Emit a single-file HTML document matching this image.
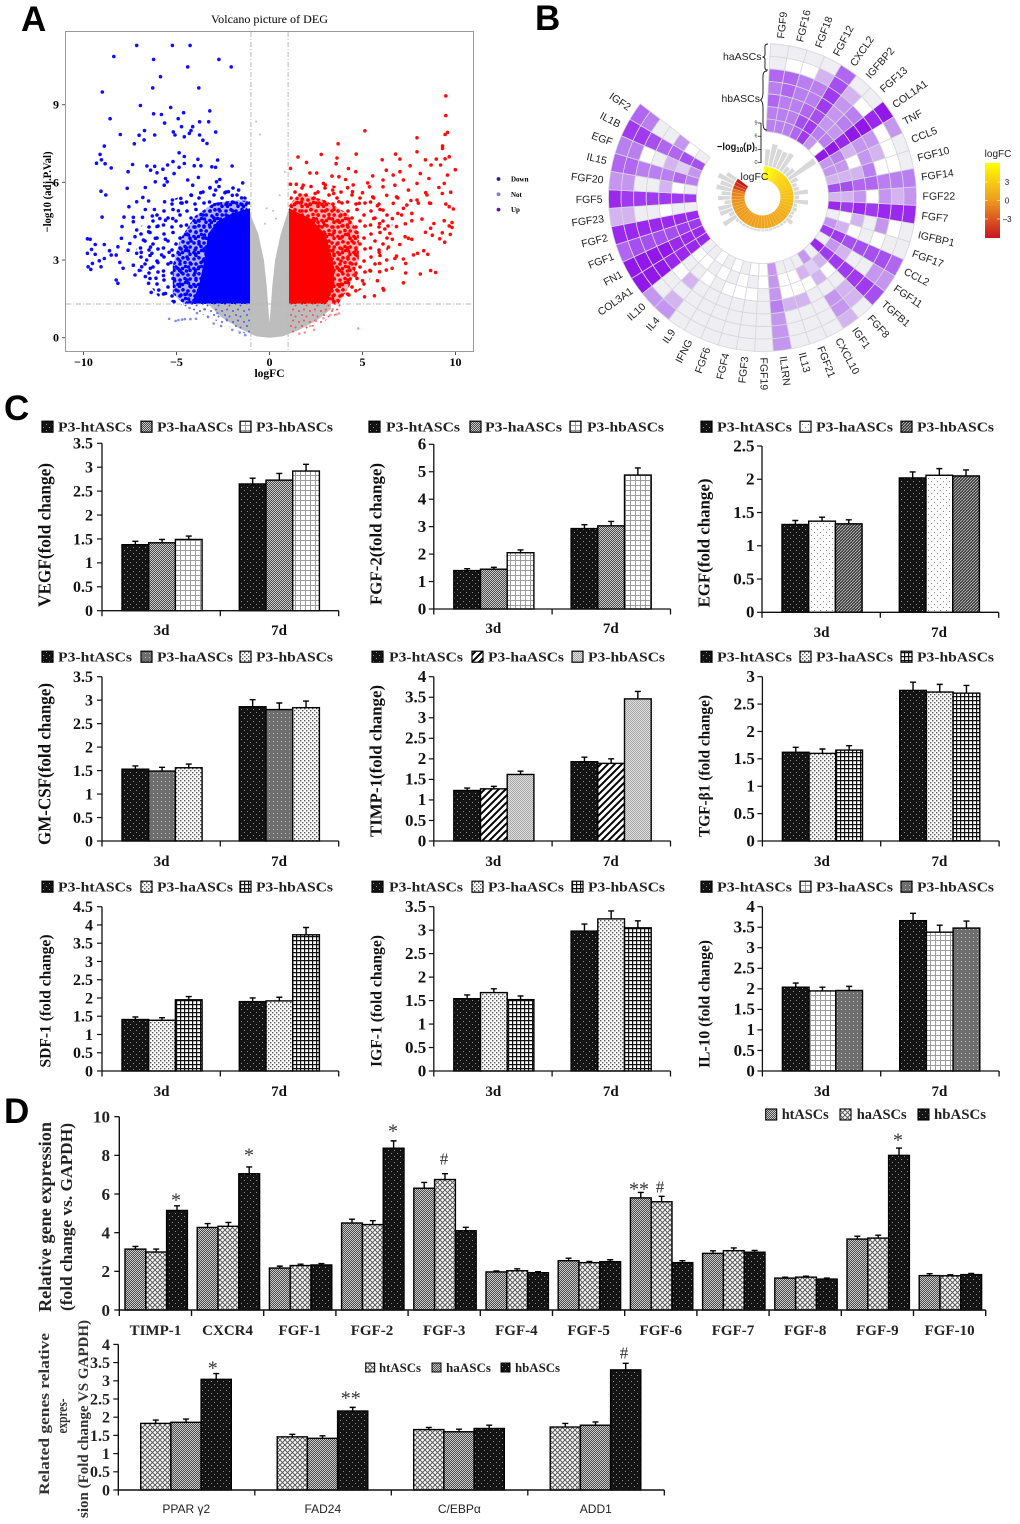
<!DOCTYPE html>
<html lang="en">
<head>
<meta charset="utf-8">
<title>Multi-panel figure: volcano plot, circular heatmap, growth factor bar charts</title>
<style>
html,body{margin:0;padding:0;background:#fff;}
svg{display:block;}
.serif{font-family:"Liberation Serif",serif;}
.sans{font-family:"Liberation Sans",sans-serif;}
</style>
</head>
<body>
<svg id="fig" xmlns="http://www.w3.org/2000/svg" width="1020" height="1524" viewBox="0 0 1020 1524">
<defs>
<pattern id="darkDots" width="6" height="6" patternUnits="userSpaceOnUse"><rect width="6" height="6" fill="#141414"/><rect x="1" y="1" width="1" height="1" fill="#8c8c8c"/><rect x="4" y="4" width="1" height="1" fill="#8c8c8c"/></pattern>
<pattern id="grayCheck" width="2" height="2" patternUnits="userSpaceOnUse"><rect width="2" height="2" fill="#4c4c4c"/><rect width="1" height="1" fill="#cacaca"/><rect x="1" y="1" width="1" height="1" fill="#cacaca"/></pattern>
<pattern id="whiteGrid" width="5" height="5" patternUnits="userSpaceOnUse"><rect width="5" height="5" fill="#fff"/><path d="M0 .5H5M.5 0V5" stroke="#9c9c9c" stroke-width="1"/></pattern>
<pattern id="whiteDots" width="6" height="6" patternUnits="userSpaceOnUse"><rect width="6" height="6" fill="#fff"/><rect x="1" y="1" width="1" height="1" fill="#888"/><rect x="4" y="4" width="1" height="1" fill="#888"/></pattern>
<pattern id="whiteDotsDense" width="4" height="4" patternUnits="userSpaceOnUse"><rect width="4" height="4" fill="#fff"/><rect x="0" y="0" width="1.4" height="1.4" fill="#555"/><rect x="2" y="2" width="1.4" height="1.4" fill="#555"/></pattern>
<pattern id="diagDark" width="3" height="3" patternUnits="userSpaceOnUse"><rect width="3" height="3" fill="#3a3a3a"/><path d="M0 3L3 0" stroke="#c4c4c4" stroke-width=".8"/></pattern>
<pattern id="diagWide" width="7" height="7" patternUnits="userSpaceOnUse"><rect width="7" height="7" fill="#fff"/><path d="M-1 8L8 -1M-1 1L1 -1M6 8L8 6" stroke="#000" stroke-width="2"/></pattern>
<pattern id="lightDense" width="2" height="2" patternUnits="userSpaceOnUse"><rect width="2" height="2" fill="#dedede"/><rect width="1" height="1" fill="#a8a8a8"/><rect x="1" y="1" width="1" height="1" fill="#a8a8a8"/></pattern>
<pattern id="darkGrid" width="4" height="4" patternUnits="userSpaceOnUse"><rect width="4" height="4" fill="#fff"/><path d="M0 .6H4M.6 0V4" stroke="#111" stroke-width="1.2"/></pattern>
<pattern id="grayDots" width="4" height="4" patternUnits="userSpaceOnUse"><rect width="4" height="4" fill="#6e6e6e"/><rect x="1" y="1" width="1" height="1" fill="#b8b8b8"/></pattern>
<pattern id="cross" width="5" height="5" patternUnits="userSpaceOnUse"><rect width="5" height="5" fill="#fff"/><path d="M0 0L5 5M5 0L0 5" stroke="#5a5a5a" stroke-width="1"/></pattern>
<pattern id="blueDense" width="16" height="16" patternUnits="userSpaceOnUse"><g fill="#0000ff"><circle cx="2" cy="3" r="1.8"/><circle cx="7" cy="1.8" r="1.8"/><circle cx="12" cy="3" r="1.8"/><circle cx="14.2" cy="7" r="1.8"/><circle cx="4" cy="8" r="1.8"/><circle cx="9" cy="6.5" r="1.8"/><circle cx="12.5" cy="11" r="1.8"/><circle cx="1.9" cy="12.5" r="1.8"/><circle cx="6.5" cy="12.5" r="1.8"/><circle cx="9.5" cy="10.5" r="1.8"/><circle cx="14" cy="14.2" r="1.8"/><circle cx="3.5" cy="14.2" r="1.8"/></g></pattern>
<pattern id="redDense" width="16" height="16" patternUnits="userSpaceOnUse"><g fill="#ff0000"><circle cx="2" cy="3" r="1.8"/><circle cx="7" cy="1.8" r="1.8"/><circle cx="12" cy="3" r="1.8"/><circle cx="14.2" cy="7" r="1.8"/><circle cx="4" cy="8" r="1.8"/><circle cx="9" cy="6.5" r="1.8"/><circle cx="12.5" cy="11" r="1.8"/><circle cx="1.9" cy="12.5" r="1.8"/><circle cx="6.5" cy="12.5" r="1.8"/><circle cx="9.5" cy="10.5" r="1.8"/><circle cx="14" cy="14.2" r="1.8"/><circle cx="3.5" cy="14.2" r="1.8"/></g></pattern>
<pattern id="blueSparse" width="23" height="23" patternUnits="userSpaceOnUse"><g fill="#0000ff"><circle cx="3" cy="4" r="1.8"/><circle cx="12" cy="2.5" r="1.8"/><circle cx="19" cy="8" r="1.8"/><circle cx="7" cy="11" r="1.8"/><circle cx="15" cy="14" r="1.8"/><circle cx="2.5" cy="18" r="1.8"/><circle cx="11" cy="20" r="1.8"/><circle cx="20" cy="19" r="1.8"/></g></pattern>
<pattern id="redSparse" width="23" height="23" patternUnits="userSpaceOnUse"><g fill="#ff0000"><circle cx="3" cy="4" r="1.8"/><circle cx="12" cy="2.5" r="1.8"/><circle cx="19" cy="8" r="1.8"/><circle cx="7" cy="11" r="1.8"/><circle cx="15" cy="14" r="1.8"/><circle cx="2.5" cy="18" r="1.8"/><circle cx="11" cy="20" r="1.8"/><circle cx="20" cy="19" r="1.8"/></g></pattern>
<pattern id="blueFringe" width="11" height="11" patternUnits="userSpaceOnUse"><g fill="#4a5fe8"><circle cx="2" cy="3" r="1"/><circle cx="7" cy="1.5" r="1"/><circle cx="5" cy="7" r="1"/><circle cx="9.5" cy="8.5" r="1"/></g></pattern>
<pattern id="redFringe" width="11" height="11" patternUnits="userSpaceOnUse"><g fill="#f05050"><circle cx="2" cy="3" r="1"/><circle cx="7" cy="1.5" r="1"/><circle cx="5" cy="7" r="1"/><circle cx="9.5" cy="8.5" r="1"/></g></pattern>
<linearGradient id="logfcGradient" x1="0" y1="0" x2="0" y2="1"><stop offset="0" stop-color="#ffff00"/><stop offset=".5" stop-color="#ee9a1f"/><stop offset="1" stop-color="#c8141f"/></linearGradient>
</defs>

<g class="sans" font-weight="700" font-size="35" fill="#000">
<text x="21" y="31">A</text>
<text x="535" y="30">B</text>
<text x="4" y="420">C</text>
<text x="4" y="1123">D</text>
</g>

<g id="volcano"></g>
<g id="circos"></g>
<g id="panelsC"></g>
<g id="panelsD"></g>
</svg>

<script>
/* ---------- Panel A data (logFC, -log10 adj.P) ---------- */
const volcanoXTicks = [-10, -5, 0, 5, 10];
const volcanoYTicks = [0, 3, 6, 9];
const volcanoLegend = ['Down', 'Not', 'Up'];
const notRegion = [[-1.05,4.8],[-1.05,1.3],[-3.3,1.3],[-2.6,.8],[-1.6,.35],[-.7,.05],[0,0],[.7,.05],[1.6,.3],[2.6,.7],[3.3,1.1],[3.3,1.3],[1.05,1.3],[1.05,5],[.6,4],[.3,3],[.15,2],[.05,1],[0,.6],[-.05,1],[-.15,2],[-.3,3],[-.6,4]];
const downFringe = [[-4.8,1.3],[-3,.7],[-1.5,.2],[-1.05,.1],[-1.05,1.3]];
const upFringe = [[1.05,.1],[2.6,.5],[3.9,1],[4,1.3],[1.05,1.3]];
const downOuter = [[-5,1.3],[-6,1.6],[-6.8,2.4],[-7.2,3.2],[-7,4.2],[-6.3,4.9],[-5,5.4],[-3.5,5.9],[-2,5.9],[-1.05,5.3],[-1.05,1.3]];
const downSpread = [[-4.6,1.3],[-5.2,1.7],[-5.2,2.8],[-4.8,3.8],[-4,4.7],[-3,5.2],[-2,5.3],[-1.2,5.3],[-1.05,1.3]];
const downCore = [[-1.05,1.3],[-4.2,1.3],[-3.8,2],[-3.5,3],[-3.3,4],[-2.8,4.5],[-2,4.8],[-1.05,5]];
const upOuter = [[1.05,1.3],[3.8,1.3],[5,1.9],[6,2.8],[6.6,3.8],[6.6,4.8],[5.8,5.3],[4,5.8],[2.5,6],[1.3,5.9],[1.05,5.3]];
const upSpread = [[1.05,1.3],[3.7,1.3],[4.3,2],[4.8,3],[4.8,4],[4.2,4.8],[3,5.3],[1.6,5.6],[1.05,5.1]];
const upCore = [[1.05,1.3],[3,1.3],[3.5,2],[3.4,3],[3,4],[2.2,4.6],[1.05,5]];
const downPoints = [[-7.14,11.29],[-5.22,11.29],[-4.27,11.29],[-8.37,10.86],[-6.23,10.75],[-2.72,10.75],[-2.06,10.46],[-4.4,10.46],[-5.86,10.08],[-6.28,9.65],[-3.8,9.65],[-8.99,9.49],[-6.94,8.97],[-5.31,8.89],[-3.21,8.76],[-4.62,8.69],[-6.23,8.65],[-5.81,8.62],[-8.57,8.46],[-4.91,8.46],[-5.64,8.29],[-3.76,8.34],[-3.27,8.34],[-4.73,8.15],[-4.13,8.15],[-6.72,8],[-4.22,8],[-2.89,7.94],[-5.17,7.95],[-8.02,7.85],[-7.01,7.82],[-6.17,7.83],[-5.08,7.83],[-4.31,7.89],[-3.76,7.83],[-4.58,7.76],[-6.74,7.64],[-3.58,7.63],[-3.36,7.5],[-7.27,7.49],[-8.88,7.4],[-4.86,7.14],[-9.11,7.08],[-4.58,7],[-9.04,6.87],[-3.85,6.89],[-2.79,6.86],[-9.3,6.74],[-8.84,6.72],[-7.36,6.69],[-5.19,6.8],[-4.58,6.73],[-5.48,6.67],[-4.05,6.64],[-3.69,6.64],[-3.1,6.6],[-2.9,6.58],[-2.01,6.63],[-6.59,6.63],[-6.17,6.62],[-8.51,6.56],[-6.39,6.47],[-7.6,6.41],[-5.73,6.51],[-4.86,6.58],[-6.05,6.37],[-5.13,6.34],[-5.59,6.15],[-3.82,6.19],[-2.67,6.11],[-6.14,6.02],[-5.5,6.02],[-4.4,6.09],[-2.85,6.02],[-1.44,5.98],[-9.06,5.66],[-8.8,5.51],[-7.65,5.77],[-6.68,5.8],[-5.66,5.89],[-4.13,5.89],[-2.21,5.64],[-1.66,5.7],[-6.81,5.42],[-6.5,5.28],[-7.14,5.25],[-7.56,5.06],[-6.68,4.95],[-5.64,5.25],[-5.22,5.32],[-4.77,5.38],[-6.19,4.95],[-9,4.66],[-7.82,4.66],[-7.32,4.65],[-6.83,4.65],[-7.93,4.29],[-7.32,4.48],[-7.14,4.16],[-6.5,4.09],[-6.05,4.29],[-5.59,4.54],[-7.23,3.9],[-7.96,3.84],[-9.79,3.82],[-9.64,3.8],[-6.78,3.77],[-6.14,3.84],[-9.37,3.6],[-8.88,3.6],[-9.57,3.41],[-8.15,3.51],[-7.51,3.64],[-8.6,3.36],[-9.79,3.26],[-9.37,3.22],[-8.51,3.19],[-8.24,3.19],[-7.14,3.26],[-6.32,3.26],[-7.6,3.38],[-8.88,3.06],[-9.15,2.97],[-8.05,2.91],[-9.52,2.87],[-9.75,2.74],[-9.61,2.64],[-9.06,2.74],[-7.87,2.68],[-7.32,2.8],[-6.87,2.74],[-6.41,2.68],[-8.24,2.23],[-8.15,2.1],[-7.23,2.42],[-6.68,2.36],[-6.5,2.1],[-5.95,1.84],[-6.36,1.75],[-5.59,1.71],[-5.13,1.39],[-5.2,4.6],[-5.6,3.8],[-6,2.9],[-5.7,2.4],[-5.3,2.9],[-5.4,3.3],[-6.1,2.3],[-5.1,2.2],[-4.9,4.9],[-4.7,5.2],[-4.2,5.5],[-3.7,5.6],[-3.2,5.8],[-2.9,5.7],[-2.4,5.6],[-2,5.5],[-1.5,5.4],[-1.2,5.2],[-6.4,3.5],[-6.6,3],[-6.9,3.3],[-7,2.6],[-5.9,4.6],[-6.3,4.7],[-5.8,3.2]];
const upPoints = [[9.48,9.34],[9.48,8.58],[5.13,7.99],[7.93,7.72],[9.57,7.93],[9.44,7.85],[3.69,7.49],[9.3,7.41],[9.3,7.31],[7.93,7.18],[4.66,7.09],[2.78,7.08],[6.78,7.09],[1.53,6.98],[3.63,6.94],[7.01,6.9],[6.06,6.87],[8.38,6.87],[8.97,6.9],[9.44,6.91],[9.66,6.99],[1.99,6.77],[3.58,6.72],[7.56,6.64],[9.2,6.67],[8.69,6.67],[1.13,6.54],[9.99,6.49],[4.24,6.53],[4.64,6.41],[6.28,6.47],[7.01,6.41],[2.17,6.36],[2.54,6.36],[8.11,6.34],[9.57,6.28],[5.55,6.25],[8.57,6.15],[6.65,6.28],[3.73,6.22],[3.36,6.24],[4.09,6.11],[6.1,6.09],[7.2,6.09],[9.39,5.96],[5.28,5.98],[1.13,5.93],[1.44,5.93],[1.81,5.89],[2.9,5.96],[7.93,5.96],[9.11,5.8],[6.74,5.89],[6.1,5.83],[9.74,5.62],[9.29,5.57],[8.47,5.51],[7.47,5.7],[4.46,5.64],[5.37,5.83],[5.55,5.44],[6.83,5.44],[7.93,5.32],[8.66,5.19],[9.48,5.16],[9.66,5.06],[9.88,4.97],[6.65,5.19],[7.38,5.12],[4.82,5.19],[3.73,5.25],[2.45,5.57],[3.45,5.57],[6.1,4.93],[7.65,4.8],[7.1,4.74],[8.2,4.58],[9.39,4.52],[9.81,4.45],[7.65,4.52],[8.84,4.41],[9.66,4.32],[9.81,4.26],[8.66,4.23],[8.38,4.07],[9.29,4.05],[8.75,3.96],[9.72,3.99],[7.29,3.9],[7.47,3.84],[7.65,3.8],[9.15,3.82],[9.42,3.69],[6.47,4.03],[6.83,4.29],[5.92,4.41],[8.29,3.36],[8.51,3.22],[7.96,3.26],[7.74,3.2],[6.83,3.15],[6.74,3.06],[7.2,3.04],[5.92,2.87],[7.32,2.87],[6.28,2.61],[6.59,2.68],[5.92,2.55],[7.32,2.5],[8.11,2.46],[8.66,2.59],[8.93,2.52],[7.2,2.12],[6.1,1.9],[6.14,1.84],[5.64,1.62],[5.11,1.58],[4.64,1.81],[4.27,1.65],[6.2,4.2],[6.4,3.5],[5.9,3.3],[6.6,3.8],[7,3.6],[6.9,4.8],[7.6,5.3],[7.2,5],[8,5.2],[8.6,5.2],[8.4,5.6],[6.3,5.5],[5.8,5.1],[5.6,4.6],[6.9,5.4],[4.5,5.9],[5,5.6],[3,5.9],[3.4,5.7],[5.4,2.6],[5,2.2],[4.6,2.4],[5.8,2.2],[6.3,3],[6.6,4.6],[7.3,4.4],[5.6,5.4],[4.2,5.8]];
const notPoints = [[-.72,8.35],[-.5,7.85],[.82,6.4],[.55,5.5],[-.15,5],[.35,4.6],[-.25,4.4],[.2,4.9]];
const faintDownPoints = [[-5.4,.73],[-5.05,.65],[-4.9,.68],[-4.7,.7],[-4.55,.72],[-4.25,.72],[-3.95,.73],[-3.9,.95],[-3.3,.8],[-3,.55],[-2.6,.45],[-3.5,1.1],[-2.8,.95],[-2.3,.7],[-4.3,1.15],[-2,.3],[-1.6,.2],[-1.3,.1]];
const faintUpPoints = [[4.77,.36],[3.73,.94],[3.27,.88],[3.6,.9],[2.4,.3],[2.9,.75],[2.2,.45],[1.9,.2],[3,1.05],[2.5,.65],[3.4,1.1],[1.6,.15]];

/* ---------- Panel B data ---------- */
const geneNames = ['FGF9','FGF16','FGF18','FGF12','CXCL2','IGFBP2','FGF13','COL1A1','TNF','CCL5','FGF10','FGF14','FGF22','FGF7','IGFBP1','FGF17','CCL2','FGF11','TGFB1','FGF8','IGF1','CXCL10','FGF21','IL13','IL1RN','FGF19','FGF3','FGF4','FGF6','IFNG','IL9','IL4','IL10','COL3A1','FN1','FGF1','FGF2','FGF23','FGF5','FGF20','IL15','EGF','IL1B','IGF2'];
const heatLevels = [
[-1,-1,5,4,5,4,4],[-1,0,5,5,4,4,4],[-1,0,4,4,4,4,4],[-1,2,4,4,5,6,5],[5,6,7,7,6,7,7],[-1,2,3,3,3,4,3],[-1,0,4,4,3,4,0],[9,8,9,9,8,9,9],[3,0,3,3,2,4,3],[-1,0,2,3,0,3,3],[-1,0,0,4,2,2,2],
[4,4,4,5,5,6,6],[3,2,3,0,3,2,2],[8,8,8,7,8,7,8],[-1,0,3,-1,2,0,-1],[-1,-1,0,-1,0,2,3],[5,6,6,6,6,7,7],[3,3,-1,-1,2,3,-1],[6,7,7,7,7,7,8],[-1,2,2,-1,0,2,-1],[2,3,3,-1,2,1,3],[-1,-1,-1,-1,0,2,-1],
[-1,-1,-1,2,0,0,-1],[-1,-1,-1,2,0,0,-1],[3,3,3,4,3,3,3],[-1,-1,-1,-1,-1,0,0],[-1,-1,-1,-1,0,-1,0],[-1,-1,-1,-1,0,0,-1],[-1,-1,-1,-1,0,-1,0],[-1,-1,-1,-1,-1,0,-1],[-1,-1,-1,-1,0,-1,0],[3,2,-1,2,-1,0,-1],[3,-1,-1,0,-1,0,-1],
[9,9,9,8,8,8,8],[9,9,9,9,8,8,8],[5,6,6,6,6,7,7],[8,8,8,8,8,8,8],[2,2,-1,-1,0,-1,-1],[8,7,7,7,7,7,7],[3,3,-1,-1,2,0,-1],[5,5,4,4,4,5,4],[4,4,0,-1,2,1,3],[7,7,6,5,5,6,6],[5,4,-1,-1,3,0,-1]];
const logPValues = [3.5,4.9,4.1,4,4.4,1.5,2,7,1.5,.8,1,2.9,.8,2.9,.5,.8,.5,.6,1.4,.3,.3,.2,.2,.2,.2,.2,.2,.2,.2,.2,.3,.3,.5,3.2,1,2.8,2.8,1.2,2.6,1.8,3.2,2.6,3.7,2.2];
const logFCValues = [5,5,4.6,4,3.6,3.2,3,2.8,2.6,2.4,2.2,2,2,1.8,1.6,1.4,1.2,1.1,1,.9,.8,.7,.6,.6,.5,.5,.4,.4,.3,.3,.2,.2,.1,.1,0,0,-.2,-.3,-.5,-.8,-1.2,-3.2,-4,-5];
const pAxisTicks = [0,3,6,9];
const colorbarTicks = ['3','0','−3'];

/* ---------- Panel C data ---------- */
const dayLabels = ['3d','7d'];
const seriesC = ['P3-htASCs','P3-haASCs','P3-hbASCs'];
const vegfValues = [1.38,1.42,1.49,2.65,2.73,2.92];
const vegfErrors = [.07,.07,.07,.12,.14,.14];
const vegfTicks = ['0','0.5','1','1.5','2','2.5','3','3.5'];
const fgf2Values = [1.4,1.45,2.05,2.93,3.03,4.88];
const fgf2Errors = [.07,.07,.1,.14,.16,.26];
const fgf2Ticks = ['0','1','2','3','4','5','6'];
const egfValues = [1.32,1.37,1.33,2.02,2.06,2.05];
const egfErrors = [.06,.06,.06,.09,.1,.09];
const egfTicks = ['0','0.5','1','1.5','2','2.5'];
const gmcsfValues = [1.53,1.49,1.56,2.86,2.8,2.84];
const gmcsfErrors = [.07,.08,.08,.15,.14,.14];
const gmcsfTicks = ['0','0.5','1','1.5','2','2.5','3','3.5'];
const timp1Values = [1.23,1.27,1.62,1.93,1.89,3.46];
const timp1Errors = [.06,.06,.08,.11,.11,.18];
const timp1Ticks = ['0','0.5','1','1.5','2','2.5','3','3.5','4'];
const tgfValues = [1.62,1.6,1.66,2.75,2.72,2.7];
const tgfErrors = [.09,.08,.08,.15,.14,.14];
const tgfTicks = ['0','0.5','1','1.5','2','2.5','3'];
const sdfValues = [1.41,1.39,1.95,1.9,1.92,3.73];
const sdfErrors = [.07,.07,.09,.1,.1,.2];
const sdfTicks = ['0','0.5','1','1.5','2','2.5','3','3.5','4','4.5'];
const igfValues = [1.54,1.67,1.52,2.98,3.24,3.05];
const igfErrors = [.08,.08,.08,.15,.17,.15];
const igfTicks = ['0','0.5','1','1.5','2','2.5','3','3.5'];
const il10Values = [2.04,1.95,1.96,3.66,3.38,3.48];
const il10Errors = [.1,.09,.1,.18,.17,.17];
const il10Ticks = ['0','0.5','1','1.5','2','2.5','3','3.5','4'];

/* ---------- Panel D data ---------- */
const seriesD = ['htASCs','haASCs','hbASCs'];
const genesTop = ['TIMP-1','CXCR4','FGF-1','FGF-2','FGF-3','FGF-4','FGF-5','FGF-6','FGF-7','FGF-8','FGF-9','FGF-10'];
const topHt = [3.15,4.27,2.17,4.5,6.3,1.97,2.55,5.8,2.93,1.65,3.67,1.78];
const topHa = [3,4.33,2.3,4.42,6.75,2.03,2.45,5.6,3.07,1.7,3.72,1.77];
const topHb = [5.15,7.05,2.33,8.37,4.1,1.93,2.5,2.45,2.99,1.6,8,1.83];
const topHtErr = [.14,.2,.1,.2,.3,.05,.13,.28,.13,.05,.15,.1];
const topHaErr = [.15,.2,.07,.2,.3,.1,.06,.28,.14,.05,.15,.05];
const topHbErr = [.24,.35,.07,.38,.18,.05,.1,.1,.09,.05,.38,.06];
const topTicks = [0,2,4,6,8,10];
const genesBottom = ['PPAR γ2','FAD24','C/EBPα','ADD1'];
const botHt = [1.83,1.46,1.66,1.73];
const botHa = [1.86,1.42,1.6,1.78];
const botHb = [3.04,2.17,1.69,3.3];
const botHtErr = [.09,.07,.06,.1];
const botHaErr = [.09,.07,.07,.09];
const botHbErr = [.16,.1,.09,.18];
const botTicks = ['0','0.5','1','1.5','2','2.5','3','3.5','4'];

/* ---------- helpers ---------- */
const NS = 'http://www.w3.org/2000/svg';
function mk(tag, attrs, parent, txt) {
  const el = document.createElementNS(NS, tag);
  for (const k in attrs) el.setAttribute(k, attrs[k]);
  if (txt !== undefined) el.textContent = txt;
  parent.appendChild(el);
  return el;
}
const SERIF = '"Liberation Serif",serif';
const SANS = '"Liberation Sans",sans-serif';

/* ---------- Panel A ---------- */
(function () {
  const g = document.getElementById('volcano');
  const xS = v => 269.5 + v * 18.6;
  const yS = v => 337.7 - v * 25.89;
  const box = mk('rect', {x:65.5, y:31.5, width:408, height:320, fill:'#fff', stroke:'#9a9a9a', 'stroke-width':1}, g);
  
  
  const title = mk('text', {x:269.5, y:23, 'text-anchor':'middle', 'font-family':SERIF, 'font-size':12, textLength:117, lengthAdjust:'spacingAndGlyphs'}, g, 'Volcano picture of DEG');
  
  

  function poly(pts, fill, op, name) {
    const p = mk('polygon', {points: pts.map(q => xS(q[0]).toFixed(1) + ',' + yS(q[1]).toFixed(1)).join(' '), fill: fill, 'fill-opacity': op}, g);
    
    
  }
  poly(notRegion, '#bdbdbd', 1, 'not-significant-cloud');
  poly(downFringe, 'url(#blueFringe)', 1, 'down-fringe-cloud');
  poly(upFringe, 'url(#redFringe)', 1, 'up-fringe-cloud');
  poly(downOuter, 'url(#blueSparse)', 1, 'down-outer-cloud');
  poly(upOuter, 'url(#redSparse)', 1, 'up-outer-cloud');
  poly(downSpread, '#0000ff', .3, 'down-spread-tint');
  poly(downSpread, 'url(#blueDense)', 1, 'down-spread-cloud');
  poly(upSpread, '#ff0000', .3, 'up-spread-tint');
  poly(upSpread, 'url(#redDense)', 1, 'up-spread-cloud');
  poly(downCore, '#0000ff', 1, 'down-core-cloud');
  poly(upCore, '#ff0000', 1, 'up-core-cloud');

  function dots(arr, fill, r, op, name) {
    arr.forEach(q => {
      const c = mk('circle', {cx:xS(q[0]).toFixed(1), cy:yS(q[1]).toFixed(1), r:r, fill:fill, 'fill-opacity':op}, g);
      
      
    });
  }
  dots(notPoints, '#bdbdbd', 1, 1, 'not-point');
  dots(faintDownPoints, '#5a70e8', 1.3, .8, 'down-faint-point');
  dots(faintUpPoints, '#f08080', 1.3, .8, 'up-faint-point');
  dots(downPoints, '#0000ff', 1.8, .95, 'down-point');
  dots(upPoints, '#ff0000', 1.8, .95, 'up-point');

  [-1, 1].forEach(v => {
    const l = mk('line', {x1:xS(v), x2:xS(v), y1:32, y2:351, stroke:'#b8b8b8', 'stroke-width':1, 'stroke-dasharray':'5 2 1 2'}, g);
    
    
  });
  const hl = mk('line', {x1:66, x2:473, y1:yS(1.3), y2:yS(1.3), stroke:'#b8b8b8', 'stroke-width':1, 'stroke-dasharray':'5 2 1 2'}, g);
  
  

  volcanoXTicks.forEach(v => {
    const t = mk('line', {x1:xS(v), x2:xS(v), y1:352, y2:355, stroke:'#555'}, g);
    
    
    const lab = mk('text', {x:xS(v), y:366, 'text-anchor':'middle', 'font-family':SERIF, 'font-weight':700, 'font-size':12}, g, v < 0 ? '−' + (-v) : String(v));
    
    
  });
  volcanoYTicks.forEach(v => {
    const t = mk('line', {x1:62, x2:65, y1:yS(v), y2:yS(v), stroke:'#555'}, g);
    
    
    const lab = mk('text', {x:59, y:yS(v) + 4, 'text-anchor':'end', 'font-family':SERIF, 'font-weight':700, 'font-size':12}, g, String(v));
    
    
  });
  const xl = mk('text', {x:269.5, y:377, 'text-anchor':'middle', 'font-family':SERIF, 'font-weight':700, 'font-size':11.5}, g, 'logFC');
  
  
  const yl = mk('text', {transform:'translate(51 192) rotate(-90)', 'text-anchor':'middle', 'font-family':SERIF, 'font-weight':700, 'font-size':11.5, textLength:81, lengthAdjust:'spacingAndGlyphs'}, g, '−log10 (adj.P.Val)');
  
  
  const legColors = ['#3310b8', '#8a78c8', '#6a10a8'];
  volcanoLegend.forEach((n, i) => {
    const y = 179 + i * 15.3;
    const d = mk('circle', {cx:498.5, cy:y, r:1.9, fill:legColors[i]}, g);
    
    
    const t = mk('text', {x:511, y:y + 2.5, 'font-family':SERIF, 'font-weight':700, 'font-size':7}, g, n);
    
    
  });
})();

/* ---------- Panel B ---------- */
(function () {
  const g = document.getElementById('circos');
  const cx = 762.5, cy = 197.5;
  const startA = 3, stepA = 6.92;
  const ringOuter = 154, ringW = 12.57;
  const levelColor = {'-1':'#efeef3', 0:'#ffffff', 1:'#e0cdf5', 2:'#d3b4f1', 3:'#c596ef', 4:'#b97ff0', 5:'#b066f0', 6:'#a64ff0', 7:'#a03af0', 8:'#9a28ee', 9:'#9118e8'};
  const pt = (r, a) => {
    const t = a * Math.PI / 180;
    return [cx + r * Math.sin(t), cy - r * Math.cos(t)];
  };
  function wedge(r0, r1, a0, a1) {
    const A = pt(r1, a0), B = pt(r1, a1), C = pt(r0, a1), D = pt(r0, a0);
    return 'M' + A[0].toFixed(2) + ' ' + A[1].toFixed(2) + 'A' + r1 + ' ' + r1 + ' 0 0 1 ' + B[0].toFixed(2) + ' ' + B[1].toFixed(2) + 'L' + C[0].toFixed(2) + ' ' + C[1].toFixed(2) + 'A' + r0 + ' ' + r0 + ' 0 0 0 ' + D[0].toFixed(2) + ' ' + D[1].toFixed(2) + 'Z';
  }
  heatLevels.forEach((row, i) => {
    const a0 = startA + i * stepA, a1 = a0 + stepA;
    row.forEach((lv, k) => {
      const r1 = ringOuter - k * ringW, r0 = r1 - ringW;
      const c = mk('path', {d:wedge(r0, r1, a0, a1), fill:levelColor[lv], stroke:'#d6d6dc', 'stroke-width':.8}, g);
      
      
    });
    const mid = a0 + stepA / 2;
    const rightHalf = mid < 180;
    const P = pt(160, mid);
    const rot = rightHalf ? mid - 90 : mid - 270;
    const lab = mk('text', {x:P[0].toFixed(1), y:P[1].toFixed(1), dy:3.7, transform:'rotate(' + rot.toFixed(1) + ' ' + P[0].toFixed(1) + ' ' + P[1].toFixed(1) + ')', 'text-anchor':rightHalf ? 'start' : 'end', 'font-family':SANS, 'font-size':10.5, fill:'#222'}, g, geneNames[i]);
    
    
  });

  const pScale = v => 33 + v * 4.4;
  logPValues.forEach((v, i) => {
    const a0 = startA + i * stepA + .6, a1 = a0 + stepA - 1.2;
    const b = mk('path', {d:wedge(32, pScale(v), a0, a1), fill:'#d8d8d8'}, g);
    
    
  });
  const mix = (c1, c2, t) => 'rgb(' + c1.map((v, n) => Math.round(v + (c2[n] - v) * t)).join(',') + ')';
  const fcColor = v => v >= 0 ? mix([238,154,31], [255,255,0], Math.min(1, v / 5)) : mix([238,154,31], [200,20,31], Math.min(1, -v / 5));
  logFCValues.forEach((v, i) => {
    const a0 = startA + i * stepA, a1 = a0 + stepA;
    const c = mk('path', {d:wedge(18, 31, a0, a1), fill:fcColor(v), stroke:'#f6cf80', 'stroke-width':.3}, g);
    
    
  });

  const axis = mk('line', {x1:761, x2:761, y1:123, y2:163, stroke:'#111', 'stroke-width':.9}, g);
  
  
  pAxisTicks.forEach(v => {
    const y = 162.7 - v * 4.41;
    const t = mk('line', {x1:758, x2:761, y1:y, y2:y, stroke:'#111', 'stroke-width':.7}, g);
    
    
    const l = mk('text', {x:757.5, y:y + 1.5, 'text-anchor':'end', 'font-family':SANS, 'font-size':5.5, fill:'#333'}, g, String(v));
    
    
  });
  const b1 = mk('path', {d:'M768 44C764 44 765 47 765 52V54C765 56 764 57 762.5 57C764 57 765 58 765 60V63C765 68 764 70 768 70', fill:'none', stroke:'#111', 'stroke-width':.9}, g);
  
  
  const b2 = mk('path', {d:'M767 71C762 71 763 76 763 84V92C763 96 762 99 760.5 100C762 101 763 104 763 108V122C763 128 764 130 767 130', fill:'none', stroke:'#111', 'stroke-width':.9}, g);
  
  
  const ha = mk('text', {x:761.5, y:60, 'text-anchor':'end', 'font-family':SANS, 'font-size':10.5, fill:'#222'}, g, 'haASCs');
  
  
  const hb = mk('text', {x:760, y:102, 'text-anchor':'end', 'font-family':SANS, 'font-size':10.5, fill:'#222'}, g, 'hbASCs');
  
  
  const lp = mk('text', {x:717, y:150, 'font-family':SANS, 'font-weight':700, 'font-size':10.5, fill:'#111', textLength:38, lengthAdjust:'spacingAndGlyphs'}, g);
  
  
  mk('tspan', {}, lp, '−log');
  mk('tspan', {'font-size':7, dy:2}, lp, '10');
  mk('tspan', {dy:-2}, lp, '(p)');
  const lf = mk('text', {x:740.5, y:180, 'font-family':SANS, 'font-size':10.5, fill:'#222'}, g, 'logFC');
  
  

  const bar = mk('rect', {x:985, y:163, width:15, height:75, fill:'url(#logfcGradient)'}, g);
  
  
  const ct = mk('text', {x:998, y:157, 'text-anchor':'middle', 'font-family':SANS, 'font-size':10, fill:'#222'}, g, 'logFC');
  
  
  colorbarTicks.forEach((t, i) => {
    const y = 182 + i * 18.5;
    const w1 = mk('line', {x1:985, x2:988, y1:y, y2:y, stroke:'#fff', 'stroke-width':.6}, g);
    
    
    const w2 = mk('line', {x1:997, x2:1000, y1:y, y2:y, stroke:'#fff', 'stroke-width':.6}, g);
    
    
    const l = mk('text', {x:1007, y:y + 3, 'text-anchor':'middle', 'font-family':SANS, 'font-size':8, fill:'#222'}, g, t);
    
    
  });
})();

/* ---------- Panel C ---------- */
const legendCol1 = [42,58,74,141,157,76,240,256,77];
const legendCol2a = [369,386,74,470,485,77,570,587,77];
const legendCol2b = [372,389,74,472,488,76,572,588,77];
const legendCol3 = [701,717,75,800,816,77,901,917,77];
const panelLayouts = [
  {name:'vegf', vals:vegfValues, errs:vegfErrors, ticks:vegfTicks, title:'VEGF(fold change)', x0:102, y0:610.7, top:443.3, tx:45, tcy:535, tl:144, tfs:18, lf:16, lo:9, fills:['darkDots','grayCheck','whiteGrid'], leg:legendCol1, ly:426.7, dayY:635},
  {name:'fgf2', vals:fgf2Values, errs:fgf2Errors, ticks:fgf2Ticks, title:'FGF-2(fold change)', x0:433.8, y0:609, top:444.3, tx:376, tcy:534, tl:142, tfs:17, lf:17, lo:7.5, fills:['darkDots','grayCheck','whiteGrid'], leg:legendCol2a, ly:426.7, dayY:633},
  {name:'egf', vals:egfValues, errs:egfErrors, ticks:egfTicks, title:'EGF(fold change)', x0:762, y0:612.3, top:446, tx:704, tcy:543, tl:129, tfs:17, lf:17, lo:7.5, fills:['darkDots','whiteDots','diagDark'], leg:legendCol3, ly:426.7, dayY:637},
  {name:'gmcsf', vals:gmcsfValues, errs:gmcsfErrors, ticks:gmcsfTicks, title:'GM-CSF(fold change)', x0:102, y0:841, top:676.7, tx:45, tcy:764, tl:162, tfs:18, lf:16, lo:9, fills:['darkDots','grayDots','whiteDotsDense'], leg:legendCol1, ly:656.7, dayY:866},
  {name:'timp1', vals:timp1Values, errs:timp1Errors, ticks:timp1Ticks, title:'TIMP-1(fold change)', x0:433.8, y0:841, top:676.7, tx:376, tcy:761, tl:152, tfs:17, lf:17, lo:7.5, fills:['darkDots','diagWide','lightDense'], leg:legendCol2b, ly:656.7, dayY:866},
  {name:'tgf', vals:tgfValues, errs:tgfErrors, ticks:tgfTicks, title:'TGF-β1 (fold change)', x0:762.4, y0:841, top:676.7, tx:704, tcy:766, tl:142, tfs:16, lf:17, lo:7.5, fills:['darkDots','whiteDotsDense','darkGrid'], leg:legendCol3, ly:656.7, dayY:866},
  {name:'sdf', vals:sdfValues, errs:sdfErrors, ticks:sdfTicks, title:'SDF-1 (fold change)', x0:102, y0:1071, top:906.7, tx:45, tcy:1001, tl:133, tfs:16, lf:16, lo:9, fills:['darkDots','whiteDotsDense','darkGrid'], leg:legendCol1, ly:886.7, dayY:1096},
  {name:'igf', vals:igfValues, errs:igfErrors, ticks:igfTicks, title:'IGF-1 (fold change)', x0:433.8, y0:1071, top:906.7, tx:376, tcy:1001, tl:132, tfs:16, lf:17, lo:7.5, fills:['darkDots','whiteDotsDense','darkGrid'], leg:legendCol2b, ly:886.7, dayY:1096},
  {name:'il10', vals:il10Values, errs:il10Errors, ticks:il10Ticks, title:'IL-10 (fold change)', x0:762.4, y0:1071, top:906.7, tx:704, tcy:1004, tl:128, tfs:16, lf:17, lo:7.5, fills:['darkDots','whiteGrid','grayDots'], leg:legendCol3, ly:886.7, dayY:1096}
];

function bar(parent, x, w, yTop, yBase, fill, yErr, name) {
  const r = mk('rect', {x:x, y:yTop, width:w, height:yBase - yTop, fill:'url(#' + fill + ')', stroke:'#000', 'stroke-width':1.4}, parent);
  
  
  const cx = x + w / 2;
  const e = mk('path', {d:'M' + cx + ' ' + yTop + 'V' + yErr + 'M' + (cx - 3) + ' ' + yErr + 'H' + (cx + 3), fill:'none', stroke:'#000', 'stroke-width':1.4}, parent);
  
  
}

panelLayouts.forEach(p => {
  const g = mk('g', {}, document.getElementById('panelsC'));
  
  
  const yMax = parseFloat(p.ticks[p.ticks.length - 1]);
  const yS = v => p.y0 - (v / yMax) * (p.y0 - p.top);
  const w = 26.7, groupX = [p.x0 + 20, p.x0 + 137.3];
  p.vals.forEach((v, i) => {
    const gi = Math.floor(i / 3), s = i % 3;
    bar(g, groupX[gi] + s * w, w, yS(v), p.y0, p.fills[s], yS(v + p.errs[i]), p.name + '-bar');
  });
  const ax = mk('path', {d:'M' + p.x0 + ' ' + p.top + 'V' + p.y0 + 'M' + p.x0 + ' ' + p.y0 + 'H' + (p.x0 + 236.7), fill:'none', stroke:'#111', 'stroke-width':1.3}, g);
  
  
  [0, 118.3, 236.7].forEach(dx => {
    const t = mk('line', {x1:p.x0 + dx, x2:p.x0 + dx, y1:p.y0, y2:p.y0 + 5.5, stroke:'#111', 'stroke-width':1.3}, g);
    
    
  });
  p.ticks.forEach(t => {
    const y = yS(parseFloat(t));
    const m = mk('line', {x1:p.x0 - 5, x2:p.x0, y1:y, y2:y, stroke:'#111', 'stroke-width':1.2}, g);
    
    
    const l = mk('text', {x:p.x0 - p.lo, y:y + 5.3, 'text-anchor':'end', 'font-family':SERIF, 'font-weight':700, 'font-size':p.lf, fill:'#111'}, g, t);
    
    
  });
  dayLabels.forEach((d, i) => {
    const l = mk('text', {x:p.x0 + 59.5 + i * 117.5, y:p.dayY, 'text-anchor':'middle', 'font-family':SERIF, 'font-weight':700, 'font-size':15, fill:'#111'}, g, d);
    
    
  });
  const tt = mk('text', {transform:'translate(' + (p.tx + 5.5) + ' ' + p.tcy + ') rotate(-90)', 'text-anchor':'middle', 'font-family':SERIF, 'font-weight':700, 'font-size':p.tfs, fill:'#111', textLength:p.tl, lengthAdjust:'spacingAndGlyphs'}, g, p.title);
  
  
  seriesC.forEach((s, i) => {
    const sx = p.leg[i * 3], tx = p.leg[i * 3 + 1], tl = p.leg[i * 3 + 2];
    const sw = mk('rect', {x:sx, y:p.ly - 5.5, width:11, height:11, fill:'url(#' + p.fills[i] + ')', stroke:'#000', 'stroke-width':1.2}, g);
    
    
    const l = mk('text', {x:tx, y:p.ly + 4.7, 'font-family':SERIF, 'font-weight':700, 'font-size':14, fill:'#222', textLength:tl, lengthAdjust:'spacingAndGlyphs'}, g, s);
    
    
  });
});

/* ---------- Panel D ---------- */
(function () {
  const root = document.getElementById('panelsD');
  function note(parent, x, cy, s) {
    const isHash = s === '#';
    const fs = isHash ? 17 : 20;
    const t = mk('text', {x:x, y:cy + (isHash ? .33 : .47) * fs, 'text-anchor':'middle', 'font-family':SERIF, 'font-size':fs, fill:'#333'}, parent, s);
    
    
  }

  /* top chart */
  const g = mk('g', {}, root);
  
  
  const x0 = 119.3, y0 = 1310, gw = 72.2, bw = 20.8;
  const yS = v => y0 - v * 19.33;
  const fillsTop = ['grayCheck', 'cross', 'darkDots'];
  const topVals = [topHt, topHa, topHb], topErrs = [topHtErr, topHaErr, topHbErr];
  genesTop.forEach((name, i) => {
    const gx = x0 + i * gw + 5.7;
    topVals.forEach((arr, s) => {
      bar(g, gx + s * bw, bw, yS(arr[i]), y0, fillsTop[s], yS(arr[i] + topErrs[s][i]), 'expression-bar');
    });
    const l = mk('text', {x:x0 + (i + .5) * gw, y:1335, 'text-anchor':'middle', 'font-family':SERIF, 'font-weight':700, 'font-size':15, fill:'#222'}, g, name);
    
    
  });
  const ax = mk('path', {d:'M' + x0 + ' ' + yS(10) + 'V' + y0 + 'H' + (x0 + 12 * gw), fill:'none', stroke:'#111', 'stroke-width':1.4}, g);
  
  
  genesTop.concat(['end']).forEach((_, i) => {
    const t = mk('line', {x1:x0 + i * gw, x2:x0 + i * gw, y1:y0, y2:y0 + 6, stroke:'#111', 'stroke-width':1.4}, g);
    
    
  });
  topTicks.forEach(v => {
    const m = mk('line', {x1:x0 - 5, x2:x0, y1:yS(v), y2:yS(v), stroke:'#111', 'stroke-width':1.3}, g);
    
    
    const l = mk('text', {x:110, y:yS(v) + 5.8, 'text-anchor':'end', 'font-family':SERIF, 'font-weight':700, 'font-size':17, fill:'#222'}, g, String(v));
    
    
  });
  const t1 = mk('text', {transform:'translate(51 1217) rotate(-90)', 'text-anchor':'middle', 'font-family':SERIF, 'font-weight':700, 'font-size':18, fill:'#222', textLength:190, lengthAdjust:'spacingAndGlyphs'}, g, 'Relative gene expression');
  
  
  const t2 = mk('text', {transform:'translate(72 1217) rotate(-90)', 'text-anchor':'middle', 'font-family':SERIF, 'font-weight':700, 'font-size':17, fill:'#222', textLength:188, lengthAdjust:'spacingAndGlyphs'}, g, '(fold change vs. GAPDH)');
  
  
  const legTop = [[765.7,781.7,47],[840,856.7,50],[918,934,52]];
  seriesD.forEach((s, i) => {
    const sw = mk('rect', {x:legTop[i][0], y:1109, width:11, height:11, fill:'url(#' + fillsTop[i] + ')', stroke:'#000', 'stroke-width':1.1}, g);
    
    
    const l = mk('text', {x:legTop[i][1], y:1119, 'font-family':SERIF, 'font-weight':700, 'font-size':14.5, fill:'#222', textLength:legTop[i][2], lengthAdjust:'spacingAndGlyphs'}, g, s);
    
    
  });
  note(g, 176, 1197, '*');
  note(g, 249, 1152, '*');
  note(g, 393, 1128, '*');
  note(g, 444, 1159, '#');
  note(g, 639, 1186, '**');
  note(g, 660, 1187, '#');
  note(g, 898, 1137, '*');

  /* bottom chart */
  const h = mk('g', {}, root);
  
  
  const bx0 = 118.3, by0 = 1490, bgw = 136.5, bbw = 30.2;
  const yB = v => by0 - v * 36.4;
  const fillsBot = ['cross', 'grayCheck', 'darkDots'];
  const botVals = [botHt, botHa, botHb], botErrs = [botHtErr, botHaErr, botHbErr];
  genesBottom.forEach((name, i) => {
    const gx = bx0 + i * bgw + 22.4;
    botVals.forEach((arr, s) => {
      bar(h, gx + s * bbw, bbw, yB(arr[i]), by0, fillsBot[s], yB(arr[i] + botErrs[s][i]), 'related-gene-bar');
    });
    const l = mk('text', {x:bx0 + i * bgw + 68, y:1513, 'text-anchor':'middle', 'font-family':SANS, 'font-size':12, fill:'#222'}, h, name);
    
    
  });
  const axb = mk('path', {d:'M' + bx0 + ' ' + yB(4) + 'V' + by0 + 'H' + (bx0 + 4 * bgw), fill:'none', stroke:'#111', 'stroke-width':1.4}, h);
  
  
  genesBottom.concat(['end']).forEach((_, i) => {
    const t = mk('line', {x1:bx0 + i * bgw, x2:bx0 + i * bgw, y1:by0, y2:by0 + 5.5, stroke:'#111', 'stroke-width':1.3}, h);
    
    
  });
  botTicks.forEach(v => {
    const y = yB(parseFloat(v));
    const m = mk('line', {x1:bx0 - 5, x2:bx0, y1:y, y2:y, stroke:'#111', 'stroke-width':1.2}, h);
    
    
    const l = mk('text', {x:110, y:y + 5.4, 'text-anchor':'end', 'font-family':SERIF, 'font-weight':700, 'font-size':16, fill:'#222'}, h, v);
    
    
  });
  const b1 = mk('text', {transform:'translate(49 1414) rotate(-90)', 'text-anchor':'middle', 'font-family':SERIF, 'font-weight':700, 'font-size':15, fill:'#333', textLength:162, lengthAdjust:'spacingAndGlyphs'}, h, 'Related genes  relative');
  
  
  const b2 = mk('text', {transform:'translate(67 1416) rotate(-90)', 'text-anchor':'middle', 'font-family':SERIF, 'font-weight':700, 'font-size':15, fill:'#333', textLength:35, lengthAdjust:'spacingAndGlyphs'}, h, 'expres-');
  
  
  const b3 = mk('text', {transform:'translate(88 1419) rotate(-90)', 'text-anchor':'middle', 'font-family':SERIF, 'font-weight':700, 'font-size':15, fill:'#333', textLength:198, lengthAdjust:'spacingAndGlyphs'}, h, 'sion (Fold change VS GAPDH)');
  
  
  const legBot = [[365.7,379,42],[432,446,45],[501,515,45]];
  seriesD.forEach((s, i) => {
    const sw = mk('rect', {x:legBot[i][0], y:1363, width:9, height:9, fill:'url(#' + fillsBot[i] + ')', stroke:'#000', 'stroke-width':1}, h);
    
    
    const l = mk('text', {x:legBot[i][1], y:1372, 'font-family':SERIF, 'font-weight':700, 'font-size':12.5, fill:'#222', textLength:legBot[i][2], lengthAdjust:'spacingAndGlyphs'}, h, s);
    
    
  });
  note(h, 212.7, 1365, '*');
  note(h, 350.7, 1395, '**');
  note(h, 624, 1353, '#');
})();
</script>
</body>
</html>
